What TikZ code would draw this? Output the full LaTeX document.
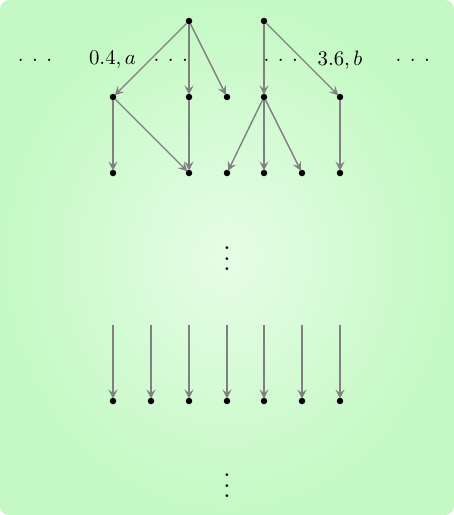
\documentclass[tikz,border=0pt]{standalone}
\usepackage{graphicx}
\usetikzlibrary{arrows.meta}
\definecolor{bgout}{HTML}{C4F9C4}
\definecolor{bgin}{HTML}{E6FDE6}
\definecolor{edgegray}{HTML}{808080}
\newcommand{\bigtxt}[1]{\scalebox{2.08}{#1}}
\newcommand{\hdts}{\bigtxt{${\cdot}\hspace{4.1pt}{\cdot}\hspace{4.1pt}{\cdot}$}}
\newcommand{\vdts}{\scalebox{2.6}{$\vdots$}}
\begin{document}
\begin{tikzpicture}[x=1pt,y=-1pt,
  dot/.style={circle,fill=black,inner sep=0pt,minimum size=6.5pt},
  lbl/.style={inner sep=0pt},
  edge/.style={draw=edgegray,line width=1.4pt,-{Stealth[length=9pt,width=9pt,inset=3.5pt]},shorten >=-1pt}]
\useasboundingbox (0,0) rectangle (454,515);
\shade[inner color=bgin,outer color=bgout,rounded corners=9pt] (0,0) rectangle (454,515);
% top nodes
\node[dot] (t1) at (189,21) {};
\node[dot] (t2) at (264,21) {};
% middle nodes
\node[dot] (m1) at (113,97) {};
\node[dot] (m3) at (189,97) {};
\node[dot] (m4) at (227,97) {};
\node[dot] (m5) at (264,97) {};
\node[dot] (m7) at (340,97) {};
% lower nodes
\node[dot] (l1) at (113,173) {};
\node[dot] (l3) at (189,173) {};
\node[dot] (l4) at (227,173) {};
\node[dot] (l5) at (264,173) {};
\node[dot] (l6) at (302,173) {};
\node[dot] (l7) at (340,173) {};
% labels
\node[lbl] (d1) at (35,60.5) {\hdts};
\node[lbl] (la) at (112.5,60) {\bigtxt{$0.4, a$}};
\node[lbl] (d2) at (170.7,60.5) {\hdts};
\node[lbl] (d3) at (280.7,60.5) {\hdts};
\node[lbl] (lb) at (340,60) {\bigtxt{$3.6, b$}};
\node[lbl] (d4) at (412.7,60.5) {\hdts};
% edges
\draw[edge] (t1) -- (m1);
\draw[edge] (t1) -- (m3);
\draw[edge] (t1) -- (m4);
\draw[edge] (t2) -- (m5);
\draw[edge] (t2) -- (m7);
\draw[edge] (m1) -- (l1);
\draw[edge] (m1) -- (l3);
\draw[edge] (m3) -- (l3);
\draw[edge] (m5) -- (l4);
\draw[edge] (m5) -- (l5);
\draw[edge] (m5) -- (l6);
\draw[edge] (m7) -- (l7);
% vertical dots
\node[lbl] (v1) at (227,251) {\vdts};
% bottom row
\foreach \i/\x in {1/113,2/151,3/189,4/227,5/264,6/302,7/340}{
  \node[dot] (b\i) at (\x,401) {};
  \coordinate (s\i) at (\x,325);
  \draw[edge] (s\i) -- (b\i);
}
\node[lbl] (v2) at (227,478) {\vdts};
\end{tikzpicture}
\end{document}
